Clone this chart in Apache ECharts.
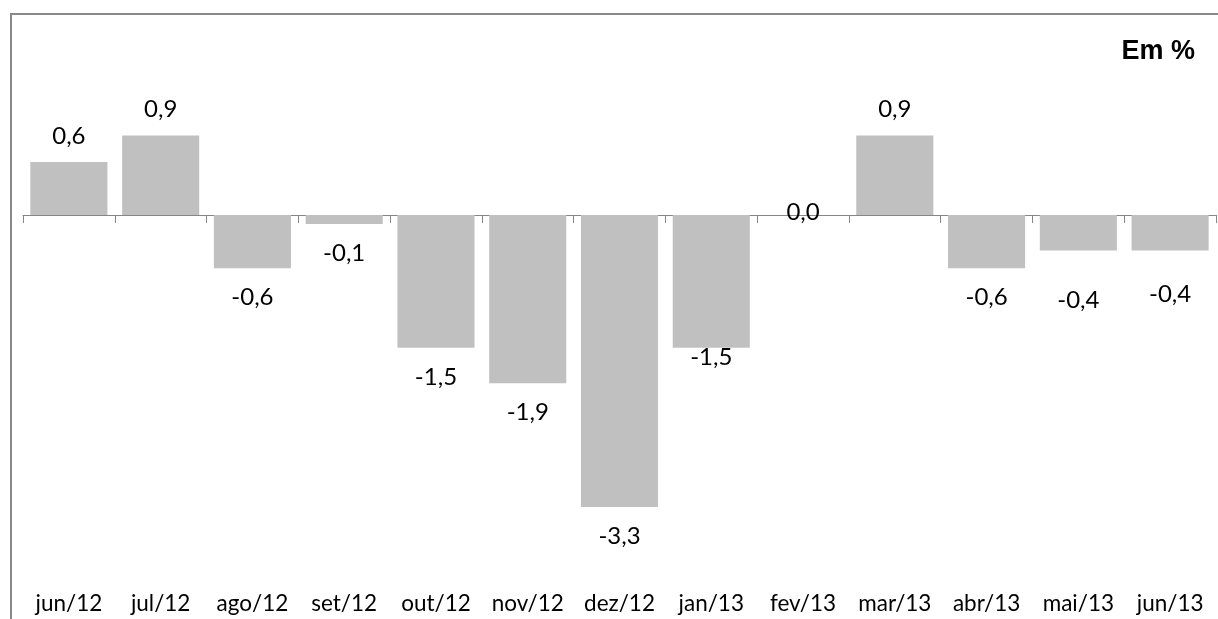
<!DOCTYPE html>
<html>
<head>
<meta charset="utf-8">
<title>Variação mensal</title>
<script src="https://cdn.jsdelivr.net/npm/echarts@6/dist/echarts.min.js"></script>
<style>
  html, body { margin: 0; padding: 0; background: #fff; }
  #chart { width: 1218px; height: 619px; }
</style>
</head>
<body>
<div id="chart"></div>
<script>
// Monthly change, in percent
const categories = ['jun/12', 'jul/12', 'ago/12', 'set/12', 'out/12', 'nov/12', 'dez/12',
                    'jan/13', 'fev/13', 'mar/13', 'abr/13', 'mai/13', 'jun/13'];
const values = [0.6, 0.9, -0.6, -0.1, -1.5, -1.9, -3.3, -1.5, 0.0, 0.9, -0.6, -0.4, -0.4];

// Value-axis extent (hidden)
const yMin = -4.2;
const yMax = 2.3;

// A few labels sit at their own distance from the bar end
const labelDistanceOverride = { 7: -3, 11: 38, 12: 32 };

const fmt = v => v.toFixed(1).replace('.', ',');
const valueFont = { fontFamily: 'Lato', fontSize: 24, color: '#000' };
const categoryFont = { fontFamily: 'Lato', fontSize: 22.5, color: '#000' };

const seriesData = values.map((v, i) => {
  const label = { show: true, ...valueFont, formatter: fmt(v) };
  if (v > 0) {
    label.position = 'top';
    label.distance = 14;
  } else if (v < 0) {
    label.position = 'bottom';
    label.distance = 17;
  } else {
    label.position = 'inside';
    label.offset = [0, -3];
  }
  if (labelDistanceOverride[i] !== undefined) label.distance = labelDistanceOverride[i];
  return { value: v, label };
});

const chart = echarts.init(document.getElementById('chart'), null, { renderer: 'canvas' });

chart.setOption({
  animation: false,
  backgroundColor: '#fff',
  title: {
    text: 'Em %',
    right: 18,
    top: 33,
    textStyle: { fontFamily: 'Liberation Sans', fontWeight: 'bold', fontSize: 27, color: '#000' }
  },
  grid: { left: 23, right: 2, top: 11.5, bottom: 32.25, containLabel: false },
  xAxis: [
    {
      type: 'category',
      data: categories,
      position: 'bottom',
      axisLine: { show: true, onZero: true, lineStyle: { color: '#868686', width: 1 } },
      axisTick: { show: true, length: 8, lineStyle: { color: '#868686', width: 1 } },
      axisLabel: { show: false },
      splitLine: { show: false }
    },
    {
      type: 'category',
      data: categories,
      position: 'bottom',
      axisLine: { show: false, onZero: false },
      axisTick: { show: false },
      axisLabel: { show: true, margin: 5, interval: 0, ...categoryFont },
      splitLine: { show: false }
    }
  ],
  yAxis: {
    type: 'value',
    min: yMin,
    max: yMax,
    show: false,
    splitLine: { show: false }
  },
  series: [
    {
      type: 'bar',
      xAxisIndex: 0,
      data: seriesData,
      barCategoryGap: '16%',
      itemStyle: { color: '#c0c0c0' }
    }
  ],
  graphic: [
    {
      type: 'line',
      shape: { x1: 11, y1: 13, x2: 11, y2: 619 },
      style: { stroke: '#888888', lineWidth: 2 },
      silent: true
    },
    {
      type: 'line',
      shape: { x1: 10, y1: 14, x2: 1218, y2: 14 },
      style: { stroke: '#888888', lineWidth: 2 },
      silent: true
    }
  ]
});
</script>
</body>
</html>
